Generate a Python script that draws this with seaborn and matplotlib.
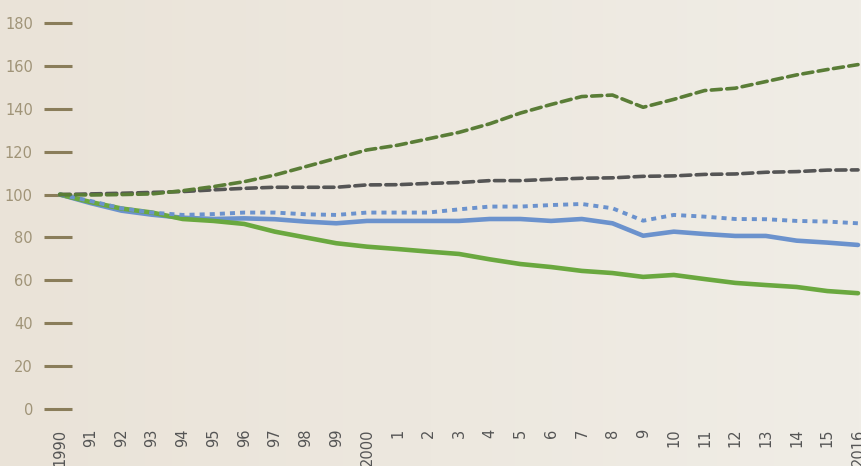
import numpy as np
import pandas as pd
import seaborn as sns
import matplotlib.pyplot as plt

years = list(range(1990, 2017))
year_labels = ['1990', '91', '92', '93', '94', '95', '96', '97', '98', '99', '2000',
               '1', '2', '3', '4', '5', '6', '7', '8', '9', '10', '11', '12', '13', '14', '15', '2016']

green_dashed = [100, 99.8, 100, 100.3, 101.8, 103.7, 106, 109.1, 113, 116.9, 120.8,
                123, 126, 129, 133, 138, 142, 145.7, 146.4, 140.7, 144.4, 148.5, 149.6,
                152.7, 155.8, 158.3, 160.6]
gray_dashed = [100, 100.3, 100.6, 101, 101.4, 102.2, 102.9, 103.4, 103.4, 103.4, 104.5,
               104.6, 105.2, 105.6, 106.5, 106.5, 107.1, 107.6, 107.8, 108.5, 108.7, 109.4,
               109.6, 110.4, 110.7, 111.4, 111.5]
blue_dotted = [100, 97, 93.6, 91.6, 90.5, 90.9, 91.6, 91.6, 90.8, 90.5, 91.6,
               91.6, 91.6, 93.1, 94.4, 94.4, 95.1, 95.6, 93.6, 87.8, 90.5, 89.7,
               88.6, 88.5, 87.7, 87.4, 86.6]
blue_solid = [100, 96, 92.5, 90.6, 89.2, 88.6, 88.9, 88.5, 87.4, 86.6, 87.7,
              87.7, 87.7, 87.7, 88.6, 88.6, 87.7, 88.6, 86.6, 80.8, 82.7, 81.6,
              80.7, 80.7, 78.5, 77.6, 76.5]
green_solid = [100, 96.5, 93.5, 91.6, 88.6, 87.7, 86.3, 82.7, 80.0, 77.3, 75.7,
               74.6, 73.4, 72.3, 69.8, 67.6, 66.2, 64.4, 63.4, 61.6, 62.5, 60.6,
               58.8, 57.8, 56.9, 55, 54]

df = pd.DataFrame({'year': years, 'green_dashed': green_dashed, 'gray_dashed': gray_dashed,
                   'blue_dotted': blue_dotted, 'blue_solid': blue_solid,
                   'green_solid': green_solid})

sns.set_style('white')
plt.rcParams['font.family'] = ['DejaVu Sans']

fig = plt.figure(figsize=(8.62, 4.66), dpi=100)

# background gradient
bg = fig.add_axes([0, 0, 1, 1], zorder=-10)
grad = np.linspace(0, 1, 256).reshape(1, -1)
c0 = np.array([0xea, 0xe3, 0xd8]) / 255
c1 = np.array([0xf0, 0xed, 0xe6]) / 255
img = c0[None, None, :] * (1 - grad[..., None]) + c1[None, None, :] * grad[..., None]
bg.imshow(img, aspect='auto', extent=[0, 1, 0, 1])
bg.axis('off')

ax = fig.add_axes([44 / 862, 57 / 466, 818 / 862, 386 / 466])
ax.patch.set_alpha(0)

sns.lineplot(data=df, x='year', y='blue_solid', ax=ax, color='#6b92cd', linewidth=3.3,
             solid_capstyle='round')
sns.lineplot(data=df, x='year', y='green_solid', ax=ax, color='#6aa83f', linewidth=3.3,
             solid_capstyle='round')
sns.lineplot(data=df, x='year', y='blue_dotted', ax=ax, color='#6b92cd', linewidth=2.8,
             dashes=(1.3, 1.3), dash_capstyle='butt')
sns.lineplot(data=df, x='year', y='gray_dashed', ax=ax, color='#555555', linewidth=2.6,
             dashes=(2.8, 1.5), dash_capstyle='round')
sns.lineplot(data=df, x='year', y='green_dashed', ax=ax, color='#5a7d37', linewidth=2.6,
             dashes=(2.8, 1.5), dash_capstyle='round')

ax.set_xlim(1990 - 16 / 30.69, 2016 + 4 / 30.69)
ax.set_ylim(0, 180)
ax.set_yticks(range(0, 181, 20))
ax.set_xticks(years)
ax.set_xticklabels(year_labels, rotation=90, fontsize=10.5, color='#555555', va='top')
ax.tick_params(axis='x', bottom=False, length=0, pad=14)
ax.tick_params(axis='y', left=True, direction='in', length=20, width=2.2, color='#8a7d5a',
               labelsize=10.5, labelcolor='#a09478', pad=8)
for s in ax.spines.values():
    s.set_visible(False)
ax.set_xlabel('')
ax.set_ylabel('')

plt.savefig('out.png', dpi=100)
